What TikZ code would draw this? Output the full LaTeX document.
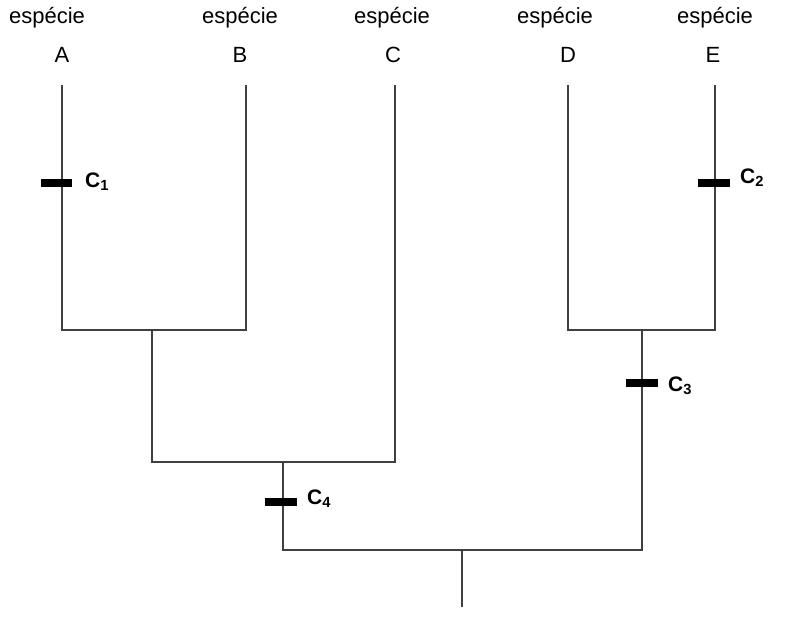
\documentclass[tikz,border=0pt]{standalone}
\usepackage{fontspec}
\setmainfont{Liberation Sans}
\begin{document}
\begin{tikzpicture}[x=1pt,y=-1pt,
  ln/.style={draw=black!75,line width=1.3pt},
  bar/.style={draw=black,line width=8pt},
  lab/.style={font=\fontsize{22}{24}\selectfont,inner sep=0pt},
  cl/.style={font=\bfseries\fontsize{21}{24}\selectfont,inner sep=0pt,anchor=west}]
\useasboundingbox (0,0) rectangle (795,622);
\node[lab] (eA) at (47,18) {espécie}; \node[lab] (lA) at (62,55) {A};
\node[lab] (eB) at (240,18) {espécie}; \node[lab] (lB) at (240,55) {B};
\node[lab] (eC) at (392,18) {espécie}; \node[lab] (lC) at (393,55) {C};
\node[lab] (eD) at (555,18) {espécie}; \node[lab] (lD) at (568,55) {D};
\node[lab] (eE) at (715,18) {espécie}; \node[lab] (lE) at (713,55) {E};
\coordinate (A) at (62,85); \coordinate (B) at (246,85); \coordinate (C) at (395,85);
\coordinate (D) at (568,85); \coordinate (E) at (715,85);
\coordinate (AB) at (152,330); \coordinate (ABC) at (283,462);
\coordinate (DE) at (642,330); \coordinate (R) at (462,550); \coordinate (Rt) at (462,607);
\draw[ln] (A) -- (62,330) -- (246,330) -- (B);
\draw[ln] (AB) -- (152,462) -- (395,462) -- (C);
\draw[ln] (D) -- (568,330) -- (715,330) -- (E);
\draw[ln] (ABC) -- (283,550) -- (642,550) -- (DE);
\draw[ln] (R) -- (Rt);
\draw[bar] (41,183) -- (72,183); \node[cl] (c1) at (85,182) {C\textsubscript{1}};
\draw[bar] (698,183) -- (730,183); \node[cl] (c2) at (740,178) {C\textsubscript{2}};
\draw[bar] (626,383) -- (658,383); \node[cl] (c3) at (668,386) {C\textsubscript{3}};
\draw[bar] (265,502) -- (297,502); \node[cl] (c4) at (307,499) {C\textsubscript{4}};
\end{tikzpicture}
\end{document}
